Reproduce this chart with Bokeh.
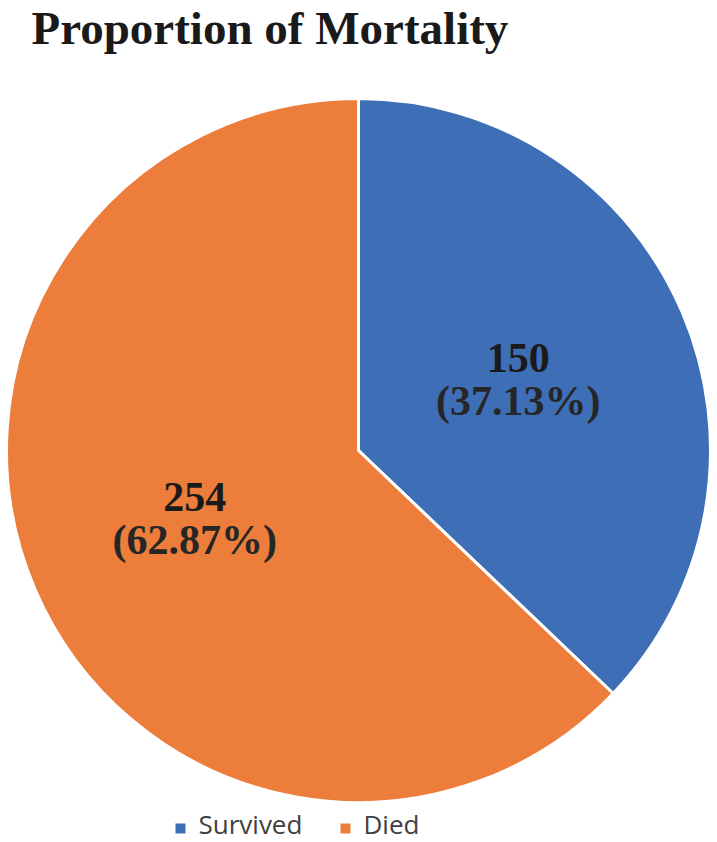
import math
from bokeh.plotting import figure
from bokeh.models import Range1d, ColumnDataSource
from bokeh.core.properties import value
from bokeh.embed import file_html
from bokeh.resources import INLINE

# ---- data ----
categories = ["Survived", "Died"]
counts = [150, 254]
percent_labels = ["(37.13%)", "(62.87%)"]
colors = ["#3E6EB5", "#EC7D3B"]
title_text = "Proportion of Mortality"

# ---- layout (screen pixel coords, y measured upward) ----
W, H = 717, 842
cx, cy = 358, H - 450
R = 352
TDY = 16  # compensation for alphabetic baseline rendering

p = figure(width=W, height=H, output_backend="svg", toolbar_location=None,
           x_range=Range1d(0, W), y_range=Range1d(0, H),
           min_border=0, outline_line_color=None)
p.axis.visible = False
p.grid.visible = False
p.background_fill_color = "white"
p.border_fill_color = "white"

total = sum(counts)
starts, ends, lx, ly = [], [], [], []
ang = math.pi / 2
for c in counts:
    sweep = 2 * math.pi * c / total
    starts.append(ang)
    ends.append(ang - sweep)
    mid = ang - sweep / 2
    lx.append(cx + 0.5 * R * math.cos(mid) - 2)
    ly.append(cy + 0.5 * R * math.sin(mid))
    ang -= sweep

src = ColumnDataSource(dict(start=starts, end=ends, color=colors,
                            x=[cx] * len(counts), y=[cy] * len(counts)))
p.wedge(x="x", y="y", radius=R, start_angle="start", end_angle="end",
        direction="clock", fill_color="color", line_color="white",
        line_width=3, source=src)

lab = ColumnDataSource(dict(x=lx, y1=[y + 7 + TDY for y in ly],
                            y2=[y - 36 + TDY for y in ly],
                            t1=[str(c) for c in counts], t2=percent_labels))
p.text(x="x", y="y1", text="t1", source=lab, text_align="center",
       text_baseline="alphabetic", text_font=value("Liberation Serif"),
       text_font_style="bold", text_font_size="42px", text_color="#1a1a1a")
p.text(x="x", y="y2", text="t2", source=lab, text_align="center",
       text_baseline="alphabetic", text_font=value("Liberation Serif"),
       text_font_style="bold", text_font_size="42px", text_color="#262626")

# title
p.text(x=[31], y=[H - 1], text=[title_text], text_align="left",
       text_baseline="top", text_font=value("Liberation Serif"),
       text_font_style="bold", text_font_size="47px", text_color="#1a1a1a")

# legend
leg_sq_x = [180, 345]
leg_tx = [198, 363]
leg_y = H - 828
p.rect(x=leg_sq_x, y=[leg_y] * 2, width=10, height=10, fill_color=colors,
       line_color=None)
p.text(x=leg_tx, y=[leg_y + 5] * 2, text=categories, text_align="left",
       text_baseline="middle", text_font=value("Open Sans"),
       text_font_size="26px", text_color="#404040")

open("out.html", "w").write(file_html(p, INLINE))
